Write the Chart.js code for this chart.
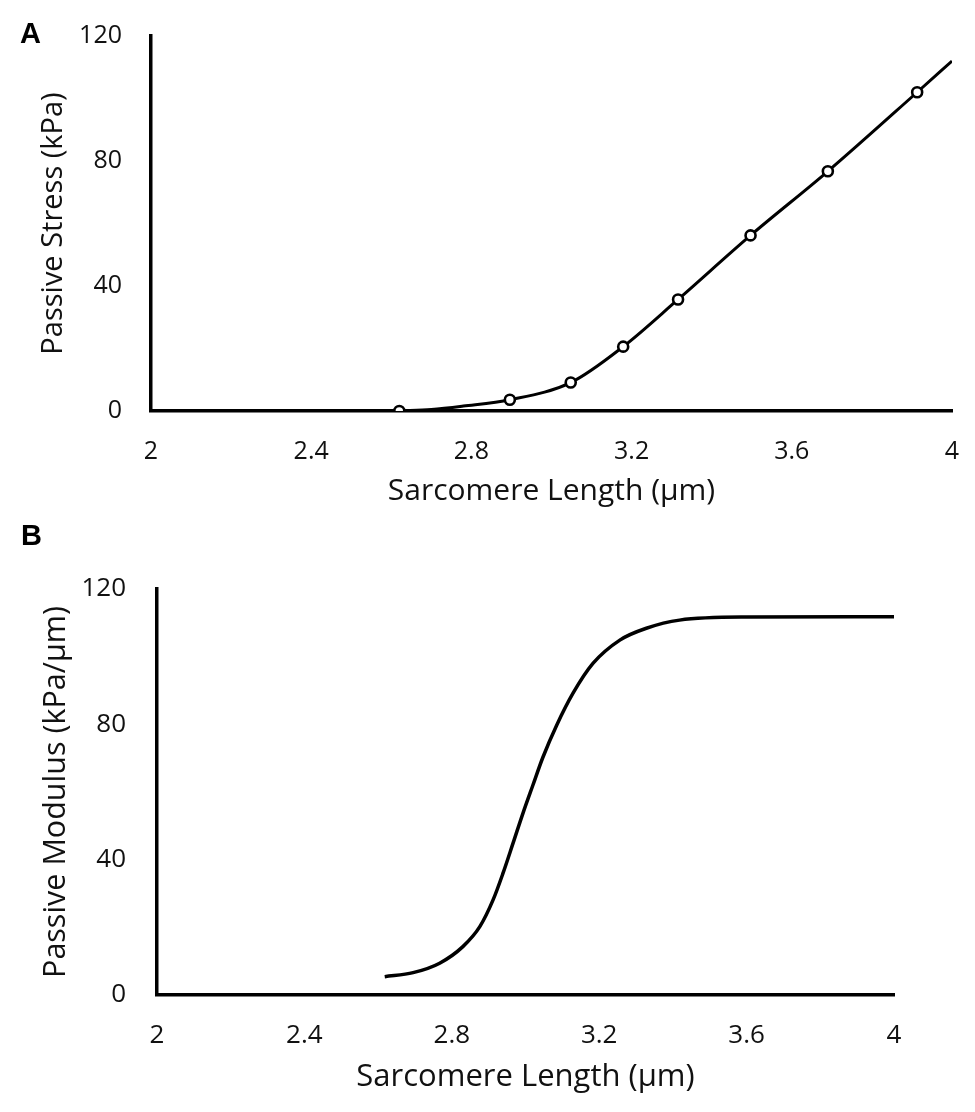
<!DOCTYPE html>
<html>
<head>
<meta charset="utf-8">
<script src="https://cdn.jsdelivr.net/npm/chart.js@4/dist/chart.umd.min.js"></script>
<style>
  html, body { margin: 0; padding: 0; background: #fff; }
  #wrap { position: relative; width: 975px; height: 1112px; overflow: hidden; }
  .panel { position: absolute; left: 0; width: 975px; }
  #pa { top: 0; height: 520px; }
  #pb { top: 520px; height: 592px; }
  .lbl { position: absolute; font-family: "Liberation Sans", Arial, sans-serif; font-weight: bold; font-size: 29px; line-height: 1; color: #000; }
</style>
</head>
<body>
<div id="wrap">
  <div class="panel" id="pa"><canvas id="ca"></canvas></div>
  <div class="panel" id="pb"><canvas id="cb"></canvas></div>
  <div class="lbl" style="left:20px; top:19px;">A</div>
  <div class="lbl" style="left:21px; top:521px;">B</div>
</div>
<script>
// ---- Data ----
const xTickLabels = ['2', '2.4', '2.8', '3.2', '3.6', '4'];
const yTickLabels = ['0', '40', '80', '120'];

// Panel A: passive stress curve (kPa) vs sarcomere length (µm)
const stressCurveX = [2.62, 2.70, 2.78, 2.896, 3.048, 3.179, 3.316, 3.497, 3.690, 3.913, 4.0];
const stressCurveY = [0.0, 0.5, 1.6, 3.6, 9.1, 20.6, 35.7, 56.2, 76.7, 102.0, 112.0];
// Panel A: open-circle markers
const stressPointX = [2.620, 2.896, 3.048, 3.179, 3.316, 3.497, 3.690, 3.913];
const stressPointY = [0.0, 3.6, 9.1, 20.6, 35.7, 56.2, 76.7, 102.0];

// Panel B: passive modulus (kPa/µm) vs sarcomere length (µm)
const modulusX = [2.618, 2.695, 2.767, 2.830, 2.876, 2.912, 2.939, 2.966, 2.993, 3.020, 3.047, 3.084, 3.129, 3.183, 3.256, 3.328, 3.418, 3.600, 4.0];
const modulusY = [5.4, 6.6, 9.4, 14.3, 20.2, 28.1, 36.0, 44.8, 53.7, 62.0, 70.2, 79.6, 89.2, 98.0, 104.9, 108.4, 110.8, 111.7, 111.8];

const toXY = (xs, ys) => xs.map((x, i) => ({ x: x, y: ys[i] }));

const FONT = '"Open Sans", Lato, sans-serif';

function clearPad(s) {
  s.paddingTop = 0; s.paddingBottom = 0; s.paddingLeft = 0; s.paddingRight = 0;
}

function makeOptions(cfg) {
  return {
    responsive: false,
    animation: false,
    layout: { autoPadding: false, padding: { left: 0, top: cfg.top, right: cfg.right, bottom: 0 } },
    plugins: { legend: { display: false }, tooltip: { enabled: false } },
    scales: {
      x: {
        type: 'linear',
        min: 2, max: 4,
        grid: { display: false, drawTicks: false },
        border: { display: true, color: '#000', width: cfg.axisW },
        ticks: {
          stepSize: 0.4,
          padding: cfg.xTickPad,
          color: '#111',
          font: { family: FONT, size: cfg.tickSize },
          maxRotation: 0,
          callback: (v, i) => xTickLabels[i]
        },
        title: {
          display: true,
          text: 'Sarcomere Length (μm)',
          color: '#111',
          font: { family: FONT, size: cfg.xTitleSize },
          padding: { top: 0, bottom: cfg.xTitlePad }
        },
        afterFit: (s) => { s.height = cfg.xH; clearPad(s); }
      },
      y: {
        type: 'linear',
        min: 0, max: 120,
        grid: { display: false, drawTicks: false },
        border: { display: true, color: '#000', width: cfg.axisW },
        ticks: {
          stepSize: 40,
          padding: cfg.yTickPad,
          color: '#111',
          font: { family: FONT, size: cfg.tickSize },
          callback: (v, i) => yTickLabels[i]
        },
        title: {
          display: true,
          text: cfg.yTitle,
          color: '#111',
          font: { family: FONT, size: cfg.yTitleSize },
          padding: { top: cfg.yTitlePad, bottom: 0 }
        },
        afterFit: (s) => { s.width = cfg.yW; clearPad(s); }
      }
    }
  };
}

function sizeCanvas(id, w, h) {
  const c = document.getElementById(id);
  c.width = w; c.height = h;
  c.style.width = w + 'px'; c.style.height = h + 'px';
  return c;
}

// Panel A
new Chart(sizeCanvas('ca', 975, 520), {
  type: 'line',
  data: {
    datasets: [
      {
        data: toXY(stressCurveX, stressCurveY),
        borderColor: '#000',
        borderWidth: 3,
        pointRadius: 0,
        cubicInterpolationMode: 'monotone',
        fill: false,
        order: 2
      },
      {
        data: toXY(stressPointX, stressPointY),
        showLine: false,
        pointRadius: 5,
        pointBorderWidth: 2.6,
        pointBorderColor: '#000',
        pointBackgroundColor: '#fff',
        order: 1
      }
    ]
  },
  options: makeOptions({
    top: 36, right: 23, axisW: 3.5, tickSize: 25,
    xH: 109, xTickPad: 26, xTitlePad: 11, xTitleSize: 30,
    yW: 151, yTickPad: 29, yTitlePad: 36, yTitleSize: 29,
    yTitle: 'Passive Stress (kPa)'
  })
});

// Panel B
new Chart(sizeCanvas('cb', 975, 592), {
  type: 'line',
  data: {
    datasets: [
      {
        data: toXY(modulusX, modulusY),
        borderColor: '#000',
        borderWidth: 3.5,
        pointRadius: 0,
        cubicInterpolationMode: 'monotone',
        fill: false
      }
    ]
  },
  options: makeOptions({
    top: 69, right: 81, axisW: 3.5, tickSize: 26,
    xH: 117, xTickPad: 25, xTitlePad: 16, xTitleSize: 31,
    yW: 157, yTickPad: 31, yTitlePad: 38, yTitleSize: 30.5,
    yTitle: 'Passive Modulus (kPa/μm)'
  })
});
</script>
</body>
</html>
